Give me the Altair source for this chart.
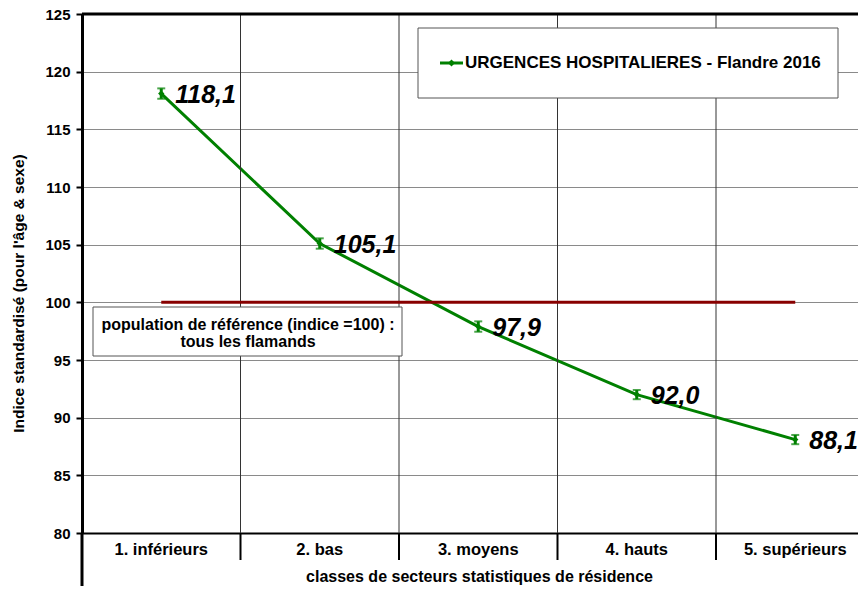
import altair as alt
import pandas as pd

# ---- data ----
categories = ["1. inférieurs", "2. bas", "3. moyens", "4. hauts", "5. supérieurs"]
positions = [1, 2, 3, 4, 5]
values = [118.1, 105.1, 97.9, 92.0, 88.1]
value_labels = ["118,1", "105,1", "97,9", "92,0", "88,1"]
ci_low = [117.65, 104.65, 97.45, 91.6, 87.7]
ci_high = [118.55, 105.55, 98.35, 92.4, 88.5]
boundaries = [1.5, 2.5, 3.5, 4.5]
y_ticks = [80, 85, 90, 95, 100, 105, 110, 115, 120, 125]
reference_value = [100]
top_value = [125]
legend_label = "URGENCES HOSPITALIERES - Flandre 2016"
ref_text = ["population de référence (indice =100) :", "tous les flamands"]
x_title = "classes de secteurs statistiques de résidence"
y_title = "Indice standardisé (pour l'âge & sexe)"

W, H = 776, 519
BAND = 158.5
FONT = "Liberation Sans"
GREEN = "#008000"
DARKRED = "#880000"

df = pd.DataFrame({"pos": positions, "cat": categories, "val": values,
                   "lab": value_labels, "lo": ci_low, "hi": ci_high})
df_b = pd.DataFrame({"b": boundaries})
df_ref = pd.DataFrame({"x": [positions[0]], "x2": [positions[-1]], "y": reference_value})
df_top = pd.DataFrame({"y": top_value})
df_left = pd.DataFrame({"x": [0.5]})

xs = alt.Scale(domain=[0.5, 0.5 + W / BAND], nice=False, zero=False)
ys = alt.Scale(domain=[80, 125], nice=False, zero=False)

x_axis = alt.Axis(labels=False, ticks=False, grid=False, domainColor="black",
                  domainWidth=2, title=x_title, titleFont=FONT, titleFontSize=16,
                  titleFontWeight="bold", titleColor="black", titleY=43,
                  titleX=397, titleAlign="center", titleAnchor="start",
                  titleBaseline="middle")
y_axis = alt.Axis(values=y_ticks, grid=True, gridColor="#8a8a8a", gridWidth=1,
                  domainColor="black", domainWidth=3, tickColor="black", tickWidth=2,
                  tickSize=6, labelFont=FONT, labelFontSize=15, labelFontWeight="bold",
                  labelColor="black", labelPadding=6, title=y_title, titleFont=FONT,
                  titleFontSize=15.5, titleFontWeight="bold", titleColor="black",
                  titleAngle=270, titleX=-64, titleY=279, titleAlign="center",
                  titleBaseline="middle")


def X(field):
    return alt.X(field, scale=xs, axis=x_axis)


def Y(field):
    return alt.Y(field, scale=ys, axis=y_axis)


base = alt.Chart(df)

line = base.mark_line(color=GREEN, strokeWidth=3).encode(x=X("pos:Q"), y=Y("val:Q"))
pts = base.mark_point(shape="diamond", filled=True, color=GREEN, size=40, opacity=1).encode(
    x=X("pos:Q"), y=Y("val:Q"))

bars = base.mark_rule(color=GREEN, strokeWidth=3).encode(
    x=X("pos:Q"), y=Y("lo:Q"), y2="hi:Q")
cap_lo = base.mark_tick(color=GREEN, orient="horizontal", size=8, thickness=2).encode(
    x=X("pos:Q"), y=Y("lo:Q"))
cap_hi = base.mark_tick(color=GREEN, orient="horizontal", size=8, thickness=2).encode(
    x=X("pos:Q"), y=Y("hi:Q"))

labels = base.mark_text(font=FONT, fontSize=25, fontWeight="bold", fontStyle="italic",
                        align="left", baseline="middle", dx=14, dy=1, color="black").encode(
    x=X("pos:Q"), y=Y("val:Q"), text="lab:N")

cat_labels = base.mark_text(font=FONT, fontSize=16.5, fontWeight="bold", baseline="middle",
                            color="black").encode(
    x=X("pos:Q"), y=alt.value(H + 17), text="cat:N")

vgrid = alt.Chart(df_b).mark_rule(color="#333333", strokeWidth=1).encode(
    x=X("b:Q"), y=alt.value(0), y2=alt.value(H))
vticks = alt.Chart(df_b).mark_rule(color="black", strokeWidth=2).encode(
    x=X("b:Q"), y=alt.value(H), y2=alt.value(H + 27))
left_ext = alt.Chart(df_left).mark_rule(color="black", strokeWidth=3).encode(
    x=X("x:Q"), y=alt.value(H), y2=alt.value(H + 62))

top_rule = alt.Chart(df_top).mark_rule(color="black", strokeWidth=3).encode(y=Y("y:Q"))

ref_rule = alt.Chart(df_ref).mark_rule(color=DARKRED, strokeWidth=3).encode(
    x=X("x:Q"), x2="x2:Q", y=Y("y:Q"))

# legend box
leg_box = alt.Chart(df_top).mark_rect(fill="white", stroke="#555555", strokeWidth=1).encode(
    x=alt.value(336), x2=alt.value(756), y=alt.value(14), y2=alt.value(84))
leg_line = alt.Chart(df_top).mark_rule(color=GREEN, strokeWidth=3).encode(
    x=alt.value(358), x2=alt.value(381), y=alt.value(49))
leg_pt = alt.Chart(df_top).mark_point(shape="diamond", filled=True, color=GREEN,
                                      size=50, opacity=1).encode(
    x=alt.value(369.5), y=alt.value(49))
leg_txt = alt.Chart(df_top).mark_text(font=FONT, fontSize=17, fontWeight="bold",
                                      align="left", baseline="middle", color="black").encode(
    x=alt.value(383), y=alt.value(49), text=alt.value(legend_label))

# reference annotation box
ref_box = alt.Chart(df_top).mark_rect(fill="white", stroke="#555555", strokeWidth=1).encode(
    x=alt.value(11), x2=alt.value(320), y=alt.value(293), y2=alt.value(342))
ref_t1 = alt.Chart(df_top).mark_text(font=FONT, fontSize=16, fontWeight="bold",
                                     align="center", baseline="middle", color="black").encode(
    x=alt.value(166), y=alt.value(311), text=alt.value(ref_text[0]))
ref_t2 = alt.Chart(df_top).mark_text(font=FONT, fontSize=16, fontWeight="bold",
                                     align="center", baseline="middle", color="black").encode(
    x=alt.value(166), y=alt.value(328), text=alt.value(ref_text[1]))

chart = alt.layer(
    line, vgrid, vticks, left_ext, top_rule, ref_rule, ref_box, ref_t1, ref_t2,
    leg_box, leg_line, leg_pt, leg_txt, bars, cap_lo, cap_hi, pts, labels, cat_labels,
).properties(
    width=W, height=H,
    autosize=alt.AutoSizeParams(type="none"),
    padding={"left": 74, "top": 6, "right": 0, "bottom": 53},
).configure_view(stroke=None).configure(background="white")

chart.save("out.html", embed_options={"renderer": "svg", "actions": False})
